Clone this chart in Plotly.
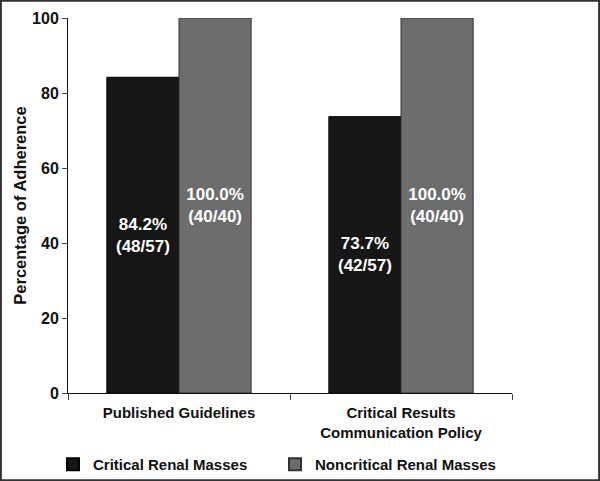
import plotly.graph_objects as go

categories = ["Published Guidelines", "Critical Results<br>Communication Policy"]
critical_vals = [84.2, 73.7]
critical_labels = ["84.2%<br>(48/57)", "73.7%<br>(42/57)"]
noncritical_vals = [100.0, 100.0]
noncritical_labels = ["100.0%<br>(40/40)", "100.0%<br>(40/40)"]
series_names = ["Critical Renal Masses", "Noncritical Renal Masses"]
y_ticks = [0, 20, 40, 60, 80, 100]

FONT = "Liberation Sans"
W, H = 600, 481
ML, MR, MT, MB = 68, 88, 18, 88

fig = go.Figure()
fig.add_trace(go.Bar(
    x=categories, y=critical_vals, name=series_names[0], legend="legend",
    text=critical_labels, textposition="inside", insidetextanchor="middle",
    textfont=dict(family=FONT, size=17, color="white", weight="bold"),
    marker=dict(color="#161616", line=dict(color="#000000", width=1)),
))
fig.add_trace(go.Bar(
    x=categories, y=noncritical_vals, name=series_names[1], legend="legend2",
    text=noncritical_labels, textposition="inside", insidetextanchor="middle",
    textfont=dict(family=FONT, size=17, color="white", weight="bold"),
    marker=dict(color="#6d6d6d", line=dict(color="#333333", width=1)),
))

pw = W - ML - MR
ph = H - MT - MB
leg_font = dict(family=FONT, size=15, color="#111111", weight="bold")
fig.update_layout(
    width=W, height=H,
    margin=dict(l=ML, r=MR, t=MT, b=MB, autoexpand=False),
    paper_bgcolor="white", plot_bgcolor="white",
    barmode="group", bargap=0.35, bargroupgap=0,
    font=dict(family=FONT, color="#111111", weight="bold"),
    showlegend=True,
    legend=dict(orientation="h", x=53 / W, xanchor="left", xref="container",
                y=-0.008, yanchor="bottom", yref="container",
                bgcolor="rgba(0,0,0,0)",
                font=leg_font, itemwidth=30, itemsizing="constant"),
    legend2=dict(orientation="h", x=(53 + 222) / W, xanchor="left", xref="container",
                 y=-0.008, yanchor="bottom", yref="container",
                 bgcolor="rgba(0,0,0,0)",
                 font=leg_font, itemwidth=30, itemsizing="constant"),
    shapes=[dict(type="rect", xref="paper", yref="paper",
                 x0=-ML / pw + 0.002, x1=1 + MR / pw - 0.002,
                 y0=-MB / ph + 0.002, y1=1 + MT / ph - 0.002,
                 line=dict(color="#333333", width=2))],
)
fig.update_xaxes(
    type="category", tickson="boundaries", ticks="outside", ticklen=6,
    ticklabelstandoff=6,
    showline=True, linecolor="#111111", linewidth=1, showgrid=False,
    tickfont=dict(family=FONT, size=15, color="#111111", weight="bold"),
)
fig.update_yaxes(
    range=[0, 100], tickvals=y_ticks, ticks="outside", ticklen=5,
    showline=True, linecolor="#111111", linewidth=1, showgrid=False, zeroline=False,
    tickfont=dict(family=FONT, size=16, color="#111111", weight="bold"),
    title=dict(text="Percentage of Adherence", standoff=1,
               font=dict(family=FONT, size=16.5, color="#111111", weight="bold")),
)
fig.write_html("out.html", config={"displayModeBar": False},
               post_script="document.body.style.margin='0';")
